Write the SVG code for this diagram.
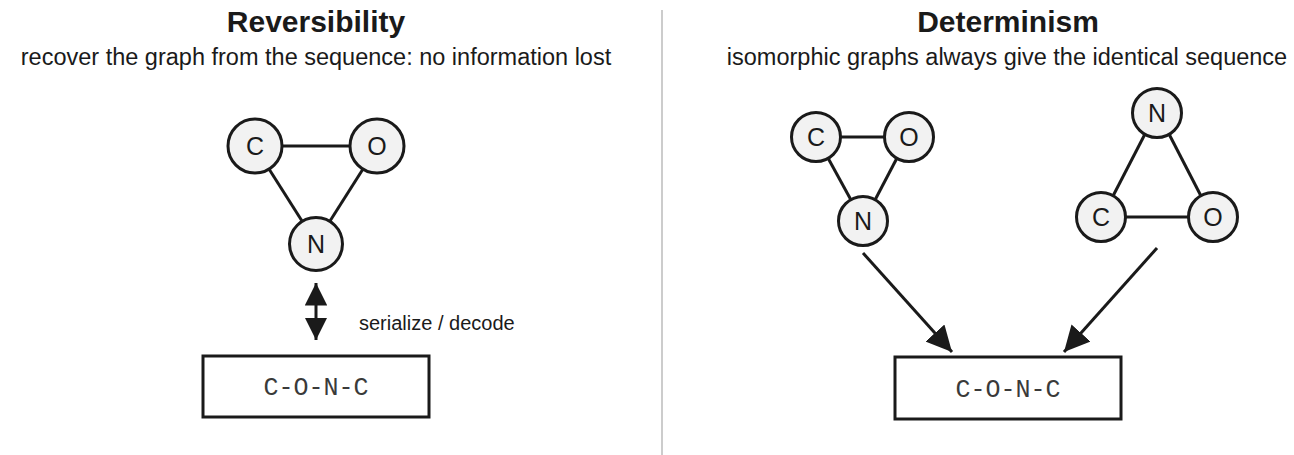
<svg xmlns="http://www.w3.org/2000/svg" width="1294" height="455" viewBox="0 0 1294 455">
<style>
.title{font-family:"Liberation Sans",Arial,sans-serif;font-weight:bold;font-size:30px;fill:#1a1a1a;text-anchor:middle}
.sub{font-family:"Liberation Sans",Arial,sans-serif;font-size:23.5px;fill:#1a1a1a;text-anchor:middle}
.lbl{font-family:"Liberation Sans",Arial,sans-serif;font-size:20px;fill:#1a1a1a}
.node circle{fill:#f2f2f2;stroke:#1a1a1a;stroke-width:3}
.node text{font-family:"Liberation Sans",Arial,sans-serif;font-size:25px;fill:#1a1a1a;text-anchor:middle}
.edge{stroke:#1a1a1a;stroke-width:3;fill:none}
.box rect{fill:#fff;stroke:#1a1a1a;stroke-width:3}
.box text{font-family:"Liberation Mono","Courier New",monospace;font-size:25px;fill:#3a3a3a;text-anchor:middle}
</style>
<defs>
<marker id="ah" viewBox="0 0 10 10" refX="10" refY="5" markerWidth="7.5" markerHeight="7.5" markerUnits="strokeWidth" orient="auto-start-reverse">
<path d="M0,0 L10,5 L0,10 Z" fill="#1a1a1a"/>
</marker>
<marker id="ahb" viewBox="0 0 10 10" refX="10" refY="5" markerWidth="8.5" markerHeight="8.5" markerUnits="strokeWidth" orient="auto">
<path d="M0,0 L10,5 L0,10 Z" fill="#1a1a1a"/>
</marker>
</defs>
<rect width="1294" height="455" fill="#fff"/>
<line x1="662" y1="10" x2="662" y2="455" stroke="#cccccc" stroke-width="2"/>
<text class="title" x="316" y="32">Reversibility</text>
<text class="sub" x="316" y="65">recover the graph from the sequence: no information lost</text>
<text class="title" x="1008" y="32">Determinism</text>
<text class="sub" x="1007" y="65">isomorphic graphs always give the identical sequence</text>
<g id="connectors">
<line class="edge" x1="282" y1="146" x2="350" y2="146"/>
<line class="edge" x1="269" y1="169" x2="302" y2="221"/>
<line class="edge" x1="363" y1="169" x2="330" y2="221"/>
<line class="edge" x1="316" y1="283" x2="316" y2="340" marker-start="url(#ah)" marker-end="url(#ah)"/>
<line class="edge" x1="840" y1="137" x2="885" y2="137"/>
<line class="edge" x1="828" y1="158" x2="851" y2="200"/>
<line class="edge" x1="897" y1="158" x2="875" y2="200"/>
<line class="edge" x1="1145" y1="134" x2="1113" y2="196"/>
<line class="edge" x1="1169" y1="134" x2="1201" y2="196"/>
<line class="edge" x1="1126" y1="217" x2="1188" y2="217"/>
<line class="edge" x1="863" y1="253" x2="952" y2="352" marker-end="url(#ahb)"/>
<line class="edge" x1="1157" y1="248" x2="1064" y2="352" marker-end="url(#ahb)"/>
</g>
<text class="lbl" x="359" y="330">serialize / decode</text>
<g id="L_C" class="node"><circle cx="255" cy="146" r="27"/><text x="255" y="155">C</text></g>
<g id="L_O" class="node"><circle cx="377" cy="146" r="27"/><text x="377" y="155">O</text></g>
<g id="L_N" class="node"><circle cx="316" cy="244" r="26.5"/><text x="316" y="253">N</text></g>
<g id="L_seq" class="box"><rect x="203" y="356" width="226" height="61"/><text x="316" y="395">C-O-N-C</text></g>
<g id="R1_C" class="node"><circle cx="816" cy="137" r="24.5"/><text x="816" y="146">C</text></g>
<g id="R1_O" class="node"><circle cx="909" cy="137" r="24.5"/><text x="909" y="146">O</text></g>
<g id="R1_N" class="node"><circle cx="863" cy="221" r="24.5"/><text x="863" y="230">N</text></g>
<g id="R2_N" class="node"><circle cx="1157" cy="113" r="24.5"/><text x="1157" y="122">N</text></g>
<g id="R2_C" class="node"><circle cx="1101" cy="217" r="24.5"/><text x="1101" y="226">C</text></g>
<g id="R2_O" class="node"><circle cx="1213" cy="217" r="24.5"/><text x="1213" y="226">O</text></g>
<g id="R_seq" class="box"><rect x="895" y="357" width="226" height="62"/><text x="1008" y="397">C-O-N-C</text></g>
</svg>
